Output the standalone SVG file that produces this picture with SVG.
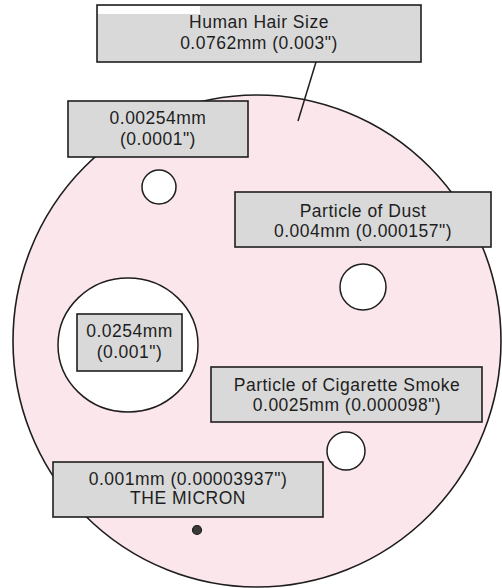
<svg xmlns="http://www.w3.org/2000/svg" width="502" height="588" viewBox="0 0 502 588">
  <style>
    .bg { fill: #ffffff; }
    .disc { fill: #fbe6eb; stroke: #1e1e1e; stroke-width: 1.6; }
    .hole { fill: #ffffff; stroke: #1e1e1e; stroke-width: 1.5; }
    .box { fill: #d9d9d9; stroke: #1e1e1e; stroke-width: 1.6; }
    .lbl { font-family: "Liberation Sans", Arial, Helvetica, sans-serif; font-size: 17.5px; letter-spacing: 0.5px; fill: #1e1e1e; text-anchor: middle; }
    .conn { stroke: #1e1e1e; stroke-width: 1.5; fill: none; }
  </style>
  <rect class="bg" x="0" y="0" width="502" height="588"/>

  <g id="field">
    <ellipse class="disc" cx="257" cy="341" rx="244" ry="246"/>
  </g>

  <g id="connectors">
    <line class="conn" x1="316" y1="62" x2="298" y2="121"/>
  </g>

  <g id="hair">
    <rect class="box" x="97" y="5" width="324" height="57"/>
    <rect x="98" y="6" width="102" height="8" fill="#ffffff"/>
    <text class="lbl" x="259" y="28">Human Hair Size</text>
    <text class="lbl" x="259" y="49">0.0762mm (0.003")</text>
  </g>

  <g id="p00254">
    <rect class="box" x="68" y="101" width="180" height="56"/>
    <text class="lbl" x="158" y="124">0.00254mm</text>
    <text class="lbl" x="158" y="145">(0.0001")</text>
    <circle class="hole" cx="159" cy="187" r="17"/>
  </g>

  <g id="dust">
    <rect class="box" x="235" y="192" width="256" height="55"/>
    <text class="lbl" x="363" y="217">Particle of Dust</text>
    <text class="lbl" x="363" y="237">0.004mm (0.000157")</text>
    <circle class="hole" cx="363" cy="287" r="23"/>
  </g>

  <g id="p0254">
    <ellipse class="hole" cx="128" cy="345" rx="70" ry="67"/>
    <rect class="box" x="77" y="314" width="105" height="57"/>
    <text class="lbl" x="129.5" y="337">0.0254mm</text>
    <text class="lbl" x="129.5" y="358">(0.001")</text>
  </g>

  <g id="smoke">
    <rect class="box" x="211" y="367" width="271" height="55"/>
    <text class="lbl" x="347" y="391">Particle of Cigarette Smoke</text>
    <text class="lbl" x="347" y="411">0.0025mm (0.000098")</text>
    <circle class="hole" cx="346" cy="451" r="19"/>
  </g>

  <g id="micron">
    <rect class="box" x="53" y="462" width="270" height="55"/>
    <text class="lbl" x="188" y="485">0.001mm (0.00003937")</text>
    <text class="lbl" x="188" y="504">THE MICRON</text>
    <circle cx="197" cy="530" r="4.5" fill="#3a3a3a" stroke="#1e1e1e" stroke-width="1.2"/>
  </g>
</svg>
